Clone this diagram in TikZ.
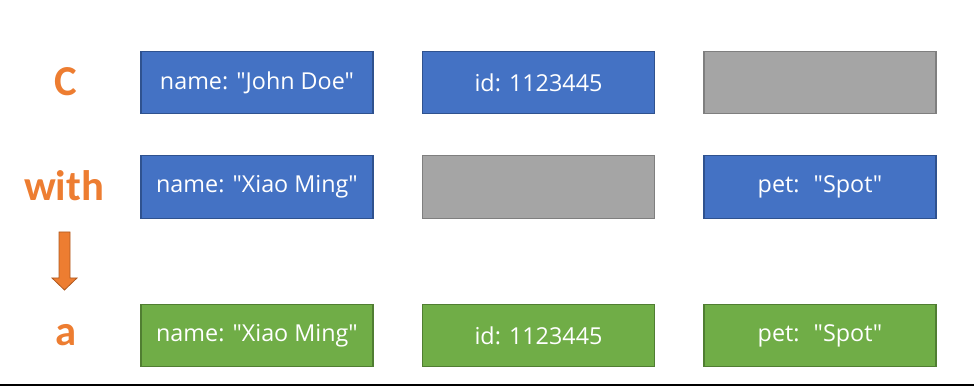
\documentclass[tikz,border=0pt]{standalone}
\usepackage{fontspec}
\setmainfont{Open Sans}[Ligatures=TeXOff]
\newfontfamily\labelfont{Carlito}
\usetikzlibrary{positioning}

\definecolor{fieldblue}{HTML}{4472C4}
\definecolor{fieldblueline}{HTML}{2F528F}
\definecolor{fieldgreen}{HTML}{70AD47}
\definecolor{fieldgreenline}{HTML}{507E32}
\definecolor{fieldgray}{HTML}{A5A5A5}
\definecolor{fieldgrayline}{HTML}{7F7F7F}
\definecolor{labelorange}{HTML}{ED7D31}
\definecolor{labelorangeline}{HTML}{AE5A21}

\tikzset{
  field/.style={minimum width=174pt,minimum height=47pt,inner sep=0pt,
    text=white,font=\fontsize{17.5}{21}\selectfont,line width=0.8pt},
  bluefield/.style={field,fill=fieldblue,draw=fieldblueline},
  greenfield/.style={field,fill=fieldgreen,draw=fieldgreenline},
  grayfield/.style={field,fill=fieldgray,draw=fieldgrayline},
  rowlabel/.style={text=labelorange,font=\labelfont\bfseries\fontsize{32}{36}\selectfont}
}

\begin{document}
\begin{tikzpicture}[x=0.75pt,y=0.75pt,yscale=-1,xscale=1]
\useasboundingbox (0,0) rectangle (974,388);

% Row C
\node[bluefield] (c1) at (257,82.5) {name: "John Doe"};
\node[bluefield] (c2) at (538.5,82.5) {id: 1123445};
\node[grayfield] (c3) at (820,82.5) {};
% Row with
\node[bluefield] (w1) at (257,187) {name: "Xiao Ming"};
\node[grayfield] (w2) at (538.5,187) {};
\node[bluefield] (w3) at (820,187) {pet:~ "Spot"};
% Row a
\node[greenfield] (a1) at (257,335.5) {name: "Xiao Ming"};
\node[greenfield] (a2) at (538.5,335.5) {id: 1123445};
\node[greenfield] (a3) at (820,335.5) {pet:~ "Spot"};

% Labels
\node[rowlabel] (lc) at (66,82) {C};
\node[rowlabel] (lwith) at (64,186) {with};
\node[rowlabel] (la) at (66,335) {a};

% Block arrow
\draw[fill=labelorange,draw=labelorangeline,line width=0.6pt]
  (59,232) -- (70,232) -- (70,278) -- (77,278) -- (64.5,290) -- (52,278) -- (59,278) -- cycle;

% Base line
\draw[line width=1.2pt] (0,385) -- (974,385);
\end{tikzpicture}
\end{document}
